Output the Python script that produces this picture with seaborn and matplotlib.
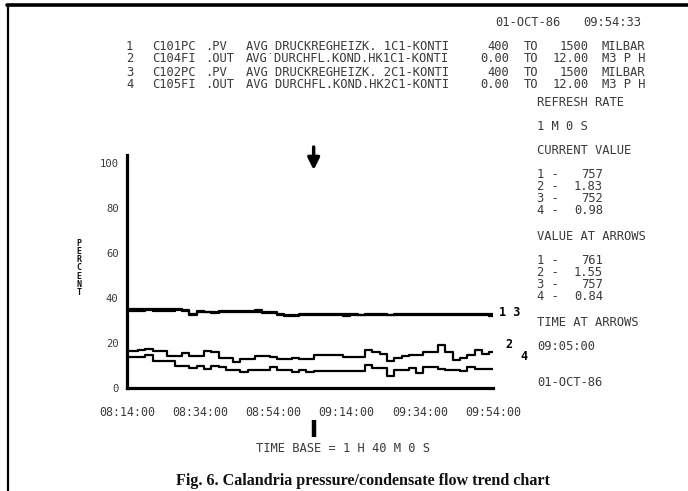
import numpy as np
import pandas as pd
import matplotlib
matplotlib.use("Agg")
import matplotlib.pyplot as plt
import seaborn as sns

# ---------------- data ----------------
minutes = list(range(0, 101, 2))   # minutes after 08:14:00
s1 = [35.0, 35.0, 35.0, 35.0, 35.0, 35.0, 35.0, 35.0, 34.6, 33.0, 34.2, 34.0, 33.8,
      34.2, 34.4, 34.2, 34.4, 34.2, 34.6, 34.0, 33.8, 33.0, 32.6, 32.2, 32.9, 32.8,
      32.7, 32.7, 32.7, 32.7, 32.7, 32.7, 32.6, 32.8, 33.0, 32.8, 32.6, 32.9, 33.0,
      32.7, 33.1, 32.8, 32.8, 33.0, 33.0, 32.7, 32.8, 32.8, 32.8, 33.1, 32.7]
s3 = [34.3, 34.3, 34.3, 34.5, 34.3, 34.3, 34.3, 34.6, 34.2, 32.5, 33.6, 33.6, 33.4,
      33.8, 33.8, 33.9, 33.8, 33.8, 34.0, 33.4, 33.2, 32.4, 31.8, 32.4, 32.4, 32.5,
      32.5, 32.5, 32.4, 32.4, 31.9, 32.5, 32.4, 32.5, 32.4, 32.3, 32.4, 32.5, 32.3,
      32.6, 32.3, 32.4, 32.5, 32.5, 32.4, 32.3, 32.4, 32.3, 32.5, 32.4, 32.0]
s2 = [16.3, 16.3, 16.9, 17.3, 16.3, 16.3, 14.4, 14.4, 15.5, 14.4, 14.4, 16.5, 16.0,
      13.2, 13.2, 11.7, 12.9, 12.9, 14.1, 14.1, 13.6, 12.9, 12.9, 13.4, 12.9, 12.9,
      14.7, 14.7, 14.7, 14.7, 13.6, 13.6, 13.6, 16.9, 16.0, 15.0, 12.0, 13.2, 14.1,
      14.8, 14.8, 16.1, 16.1, 19.2, 16.0, 12.4, 13.5, 14.7, 16.9, 15.0, 16.1]
s4 = [13.9, 13.9, 13.9, 14.7, 12.1, 12.1, 12.1, 9.9, 9.9, 8.9, 9.9, 8.4, 10.0,
      9.5, 8.0, 8.0, 6.9, 8.0, 8.0, 8.0, 9.2, 8.0, 8.0, 7.3, 8.0, 7.0,
      7.7, 7.7, 7.7, 7.7, 7.7, 7.7, 7.7, 10.2, 8.9, 8.9, 5.2, 8.0, 8.0,
      8.7, 6.6, 9.5, 9.5, 8.4, 8.2, 8.2, 7.7, 9.2, 8.4, 8.4, 8.4]
series_names = ["1", "2", "3", "4"]

xtick_pos = [0, 20, 40, 60, 80, 100]
xtick_labels = ["08:14:00", "08:34:00", "08:54:00", "09:14:00", "09:34:00", "09:54:00"]
ytick_pos = [0, 20, 40, 60, 80, 100]
arrow_minute = 51

header_rows = [
    ["1", "C101PC", ".PV", "AVG DRUCKREGHEIZK. 1C1-KONTI", "400", "TO", "1500", "MILBAR"],
    ["2", "C104FI", ".OUT", "AVG\u02d9DURCHFL.KOND.HK1C1-KONTI", "0.00", "TO", "12.00", "M3 P H"],
    ["3", "C102PC", ".PV", "AVG DRUCKREGHEIZK. 2C1-KONTI", "400", "TO", "1500", "MILBAR"],
    ["4", "C105FI", ".OUT", "AVG DURCHFL.KOND.HK2C1-KONTI", "0.00", "TO", "12.00", "M3 P H"],
]
current_values = ["757", "1.83", "752", "0.98"]
arrow_values = ["761", "1.55", "757", "0.84"]

# ---------------- figure ----------------
sns.set_style("white")
plt.rcParams["font.family"] = ["DejaVu Sans Mono"]

W, H = 688, 491
fig = plt.figure(figsize=(W / 100, H / 100), dpi=100)

def fx(x):
    return x / W

def fy(y):
    return 1 - y / H

ax_left, ax_right, ax_top, ax_bottom = 127, 493, 155, 388
ax = fig.add_axes([fx(ax_left), fy(ax_bottom), fx(ax_right - ax_left), (ax_bottom - ax_top) / H])

df = pd.DataFrame({
    "minute": minutes * 4,
    "percent": s1 + s2 + s3 + s4,
    "series": sum([[n] * len(minutes) for n in series_names], []),
})
sns.lineplot(data=df, x="minute", y="percent", hue="series",
             palette={n: "black" for n in series_names}, legend=False,
             linewidth=1.6, ax=ax, drawstyle="steps-mid")

TXT = "#3a3a3a"
ax.set_xlim(0, 100)
ax.set_ylim(0, 100 * (ax_bottom - ax_top) / (388 - 163))
ax.set_xticks(xtick_pos)
ax.set_xticklabels(xtick_labels, fontsize=8.4, color=TXT)
ax.set_yticks(ytick_pos)
ax.set_yticklabels([str(v) for v in ytick_pos], fontsize=7.6, color=TXT)
ax.set_xlabel("")
ax.set_ylabel("")
for side in ["top", "right"]:
    ax.spines[side].set_visible(False)
for side in ["left", "bottom"]:
    ax.spines[side].set_linewidth(2.3)
    ax.spines[side].set_color("black")
ax.tick_params(axis="x", direction="out", length=8, width=2.3, pad=5, colors="black", labelcolor=TXT)
ax.tick_params(axis="y", direction="out", length=4.5, width=1.8, pad=1.5, colors="black", labelcolor=TXT)
ax.set_facecolor("white")

# arrow at 09:05 and bottom marker
trans = ax.get_xaxis_transform()
ya = lambda y: (ax_bottom - y) / (ax_bottom - ax_top)
ax.annotate("", xy=(arrow_minute, ya(170)), xytext=(arrow_minute, ya(147)),
            xycoords=trans, textcoords=trans,
            arrowprops=dict(arrowstyle="-|>,head_width=0.35,head_length=0.7",
                            lw=2.5, color="black", shrinkA=0, shrinkB=0))
ax.plot([arrow_minute, arrow_minute], [ya(420), ya(437)], transform=trans,
        color="black", lw=3.2, clip_on=False, solid_capstyle="butt")

# series labels at right end
lab_kw = dict(fontsize=8.5, fontweight="bold", color="black", family="DejaVu Sans Mono",
              va="center", ha="left")
fig.text(fx(499), fy(313), "1 3", **lab_kw)
fig.text(fx(505), fy(344), "2", **lab_kw)
fig.text(fx(520), fy(357), "4", **lab_kw)

# PERCENT label (stacked letters)
fig.text(fx(79), fy(268), "\n".join("PERCENT"), fontsize=6.0, fontweight="bold",
         ha="center", va="center", linespacing=0.9, color="#111")

# header
tkw = dict(fontsize=8.7, color=TXT, va="center")
fig.text(fx(495), fy(23), "01-OCT-86", ha="left", **tkw)
fig.text(fx(641), fy(23), "09:54:33", ha="right", **tkw)
row_y = [46, 59, 72, 85]
col_x = [126, 152, 205, 246]
for r, yy in zip(header_rows, row_y):
    for c, xx in zip(r[:4], col_x):
        fig.text(fx(xx), fy(yy), c, ha="left", **tkw)
    fig.text(fx(509), fy(yy), r[4], ha="right", **tkw)
    fig.text(fx(524), fy(yy), r[5], ha="left", **tkw)
    fig.text(fx(589), fy(yy), r[6], ha="right", **tkw)
    fig.text(fx(602), fy(yy), r[7], ha="left", **tkw)

# right panel
px = 537
fig.text(fx(px), fy(102), "REFRESH RATE", ha="left", **tkw)
fig.text(fx(px), fy(127), "1 M 0 S", ha="left", **tkw)
fig.text(fx(px), fy(151), "CURRENT VALUE", ha="left", **tkw)
for i, (v, yy) in enumerate(zip(current_values, [175, 187, 199, 211])):
    fig.text(fx(px), fy(yy), f"{i + 1} -", ha="left", **tkw)
    fig.text(fx(603), fy(yy), v, ha="right", **tkw)
fig.text(fx(px), fy(237), "VALUE AT ARROWS", ha="left", **tkw)
for i, (v, yy) in enumerate(zip(arrow_values, [261, 273, 285, 297])):
    fig.text(fx(px), fy(yy), f"{i + 1} -", ha="left", **tkw)
    fig.text(fx(603), fy(yy), v, ha="right", **tkw)
fig.text(fx(px), fy(322), "TIME AT ARROWS", ha="left", **tkw)
fig.text(fx(px), fy(347), "09:05:00", ha="left", **tkw)
fig.text(fx(px), fy(383), "01-OCT-86", ha="left", **tkw)

# time base
fig.text(fx(343), fy(449), "TIME BASE = 1 H 40 M 0 S", ha="center", **tkw)

# caption
fig.text(fx(363), fy(481), "Fig. 6. Calandria pressure/condensate flow trend chart",
         ha="center", va="center", fontsize=11.6, fontweight="bold",
         family=["Liberation Serif", "DejaVu Serif"], color="#111")

# border
fig.add_artist(plt.Line2D([fx(7), fx(688)], [fy(5), fy(5)], color="black", lw=2.6,
                          transform=fig.transFigure))
fig.add_artist(plt.Line2D([fx(8), fx(8)], [fy(5), fy(491)], color="black", lw=1.6,
                          transform=fig.transFigure))

fig.savefig("out.png", dpi=100, facecolor="white")
